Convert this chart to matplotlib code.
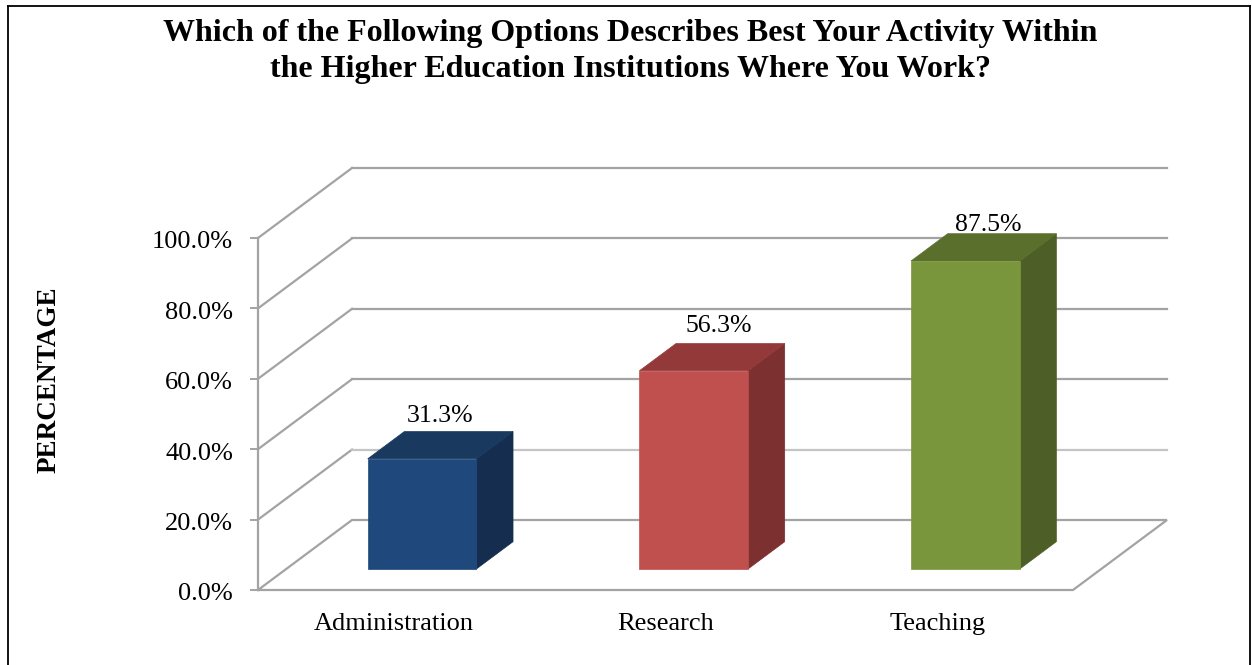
import matplotlib
matplotlib.use("Agg")
import matplotlib.pyplot as plt
from matplotlib.lines import Line2D
from matplotlib.patches import Polygon
from matplotlib.transforms import ScaledTranslation

categories = ["Administration", "Research", "Teaching"]
values = [31.3, 56.3, 87.5]
labels = ["31.3%", "56.3%", "87.5%"]
yticks = [0, 20, 40, 60, 80, 100]
ytick_labels = ["0.0%", "20.0%", "40.0%", "60.0%", "80.0%", "100.0%"]
front_colors = ["#1F497D", "#C0504D", "#7A963C"]
top_colors = ["#19395F", "#94393A", "#5B6F2D"]
side_colors = ["#152D4E", "#7C3030", "#4D5F26"]
title = ("Which of the Following Options Describes Best Your Activity Within\n"
         "the Higher Education Institutions Where You Work?")
ylabel = "PERCENTAGE"

W, H = 1252, 665
plt.rcParams["font.family"] = ["Liberation Serif", "DejaVu Serif"]
fig = plt.figure(figsize=(W / 100, H / 100), dpi=100, facecolor="white")
ax = fig.add_axes([258 / W, (H - 590) / H, 815 / W, 352 / H])
ax.set_xlim(0, 3)
ax.set_ylim(0, 100)
ax.patch.set_visible(False)

# oblique projection: depth 0..1 moves right and up in data units
DX = 94 / (815 / 3)
DY = 70 / 3.52
def proj(x, y, z):
    return (x + z * DX, y + z * DY)

GRID = "#A3A3A3"
LW = 1.6
for t in yticks[1:]:
    pts = [proj(0, t, 0), proj(0, t, 1), proj(3, t, 1)]
    ax.plot(*zip(*pts[:2]), color=GRID, lw=LW, clip_on=False, zorder=1)
    ax.plot(*zip(*pts[1:]), color="#C4C4C4" if t == 20 else GRID, lw=LW,
            clip_on=False, zorder=1)
floor = [proj(0, 0, 0), proj(3, 0, 0), proj(3, 0, 1), proj(0, 0, 1), proj(0, 0, 0)]
ax.plot(*zip(*floor), color=GRID, lw=LW, clip_on=False, zorder=1,
        solid_joinstyle="miter")

BAR_W = 0.4
Z0, Z1 = 0.3, 0.69
label_nudge = [(0, 3), (7, 5), (5, -4)]  # pixels
for i, v in enumerate(values):
    x0, x1 = i + 0.5 - BAR_W / 2, i + 0.5 + BAR_W / 2
    side = [proj(x1, 0, Z0), proj(x1, 0, Z1), proj(x1, v, Z1), proj(x1, v, Z0)]
    top = [proj(x0, v, Z0), proj(x1, v, Z0), proj(x1, v, Z1), proj(x0, v, Z1)]
    front = [proj(x0, 0, Z0), proj(x1, 0, Z0), proj(x1, v, Z0), proj(x0, v, Z0)]
    for pts, col in ((side, side_colors[i]), (top, top_colors[i]), (front, front_colors[i])):
        ax.add_patch(Polygon(pts, closed=True, facecolor=col, edgecolor=col, lw=0.5,
                             clip_on=False, zorder=3))
    ly = proj(i + 0.5, v, Z1)[1]
    lx = proj(i + 0.5, v, (Z0 + Z1) / 2)[0]
    nx, ny = label_nudge[i]
    ax.annotate(labels[i], (lx, ly), xytext=(nx * 0.72, 1 + ny * 0.72),
                textcoords="offset points", ha="center", va="bottom",
                fontsize=18.5, color="black", zorder=4, annotation_clip=False)

for s in ("top", "right", "bottom"):
    ax.spines[s].set_visible(False)
ax.spines["left"].set_color(GRID)
ax.spines["left"].set_linewidth(LW)
ax.set_xticks([i + 0.5 for i in range(3)], categories)
ax.set_yticks(yticks, ytick_labels)
ax.tick_params(axis="x", length=0, pad=16.5, labelsize=19)
ax.tick_params(axis="y", length=6, width=1.4, color=GRID, pad=12, labelsize=19)
down = ScaledTranslation(0, -2 / 100, fig.dpi_scale_trans)
for lab in ax.get_yticklabels():
    lab.set_transform(lab.get_transform() + down)

fig.text(630 / W, 1 - 51.5 / H, title, ha="center", va="center", fontsize=23,
         fontweight="bold", linespacing=1.3)
fig.text(49 / W, 1 - 380 / H, ylabel, rotation=90, ha="center", va="center",
         fontsize=19.5, fontweight="bold")

# outer frame
for xs, ys in (([8, 8], [665, 6]), ([8, 1250], [6, 6]), ([1250, 1250], [6, 665])):
    fig.add_artist(Line2D([x / W for x in xs], [1 - y / H for y in ys],
                          color="black", lw=1.3, transform=fig.transFigure))

fig.savefig("out.png", dpi=100)
